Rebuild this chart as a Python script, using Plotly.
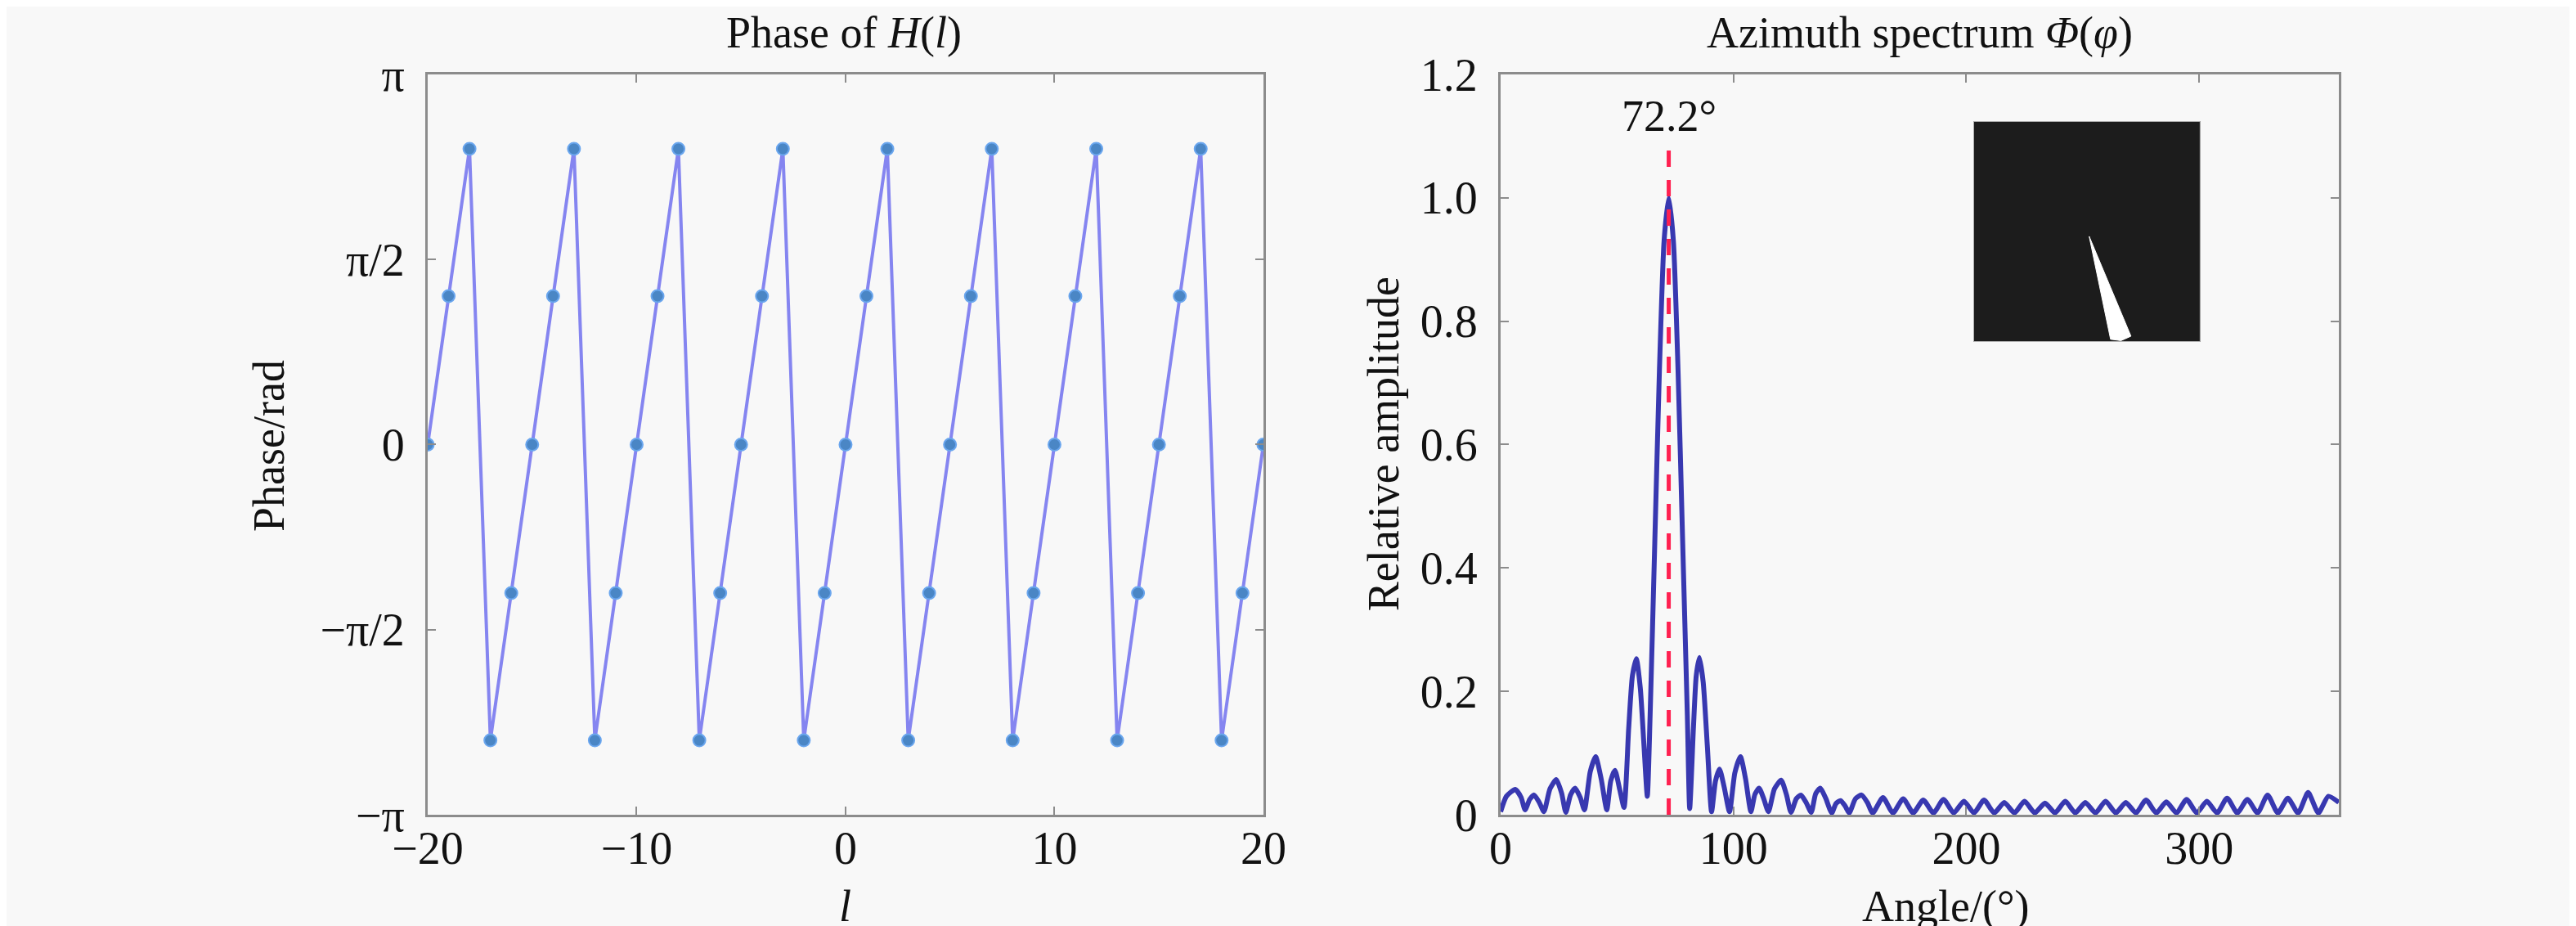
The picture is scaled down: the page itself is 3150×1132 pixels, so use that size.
import plotly.graph_objects as go

# ---- data: phase of H(l) ----
l_index = [-20, -19, -18, -17, -16, -15, -14, -13, -12, -11, -10, -9, -8, -7,
           -6, -5, -4, -3, -2, -1, 0, 1, 2, 3, 4, 5, 6, 7, 8, 9, 10, 11, 12,
           13, 14, 15, 16, 17, 18, 19, 20]
phase_rad = [0.00, 1.26, 2.51, -2.51, -1.26, 0.00, 1.26, 2.51, -2.51, -1.26,
             0.00, 1.26, 2.51, -2.51, -1.26, 0.00, 1.26, 2.51, -2.51, -1.26,
             0.00, 1.26, 2.51, -2.51, -1.26, 0.00, 1.26, 2.51, -2.51, -1.26,
             0.00, 1.26, 2.51, -2.51, -1.26, 0.00, 1.26, 2.51, -2.51, -1.26,
             0.00]
phase_tickvals = [-3.14159, -1.5708, 0, 1.5708, 3.14159]
phase_ticktext = ["−π", "−π/2", "0", "π/2", "π"]

# ---- data: azimuth spectrum ----
angle_deg = [0, 2.5, 6.3, 8.8, 10.5, 12.5, 14.4, 16.6, 18.6, 21.2, 23.9, 26.2,
             28.0, 30.0, 32.0, 34.2, 36.0, 38.5, 40.8, 43.2, 45.6, 47.3, 49.1,
             51.2, 53.0, 55.0, 56.6, 58.3, 60.0, 61.6, 63.0, 64.2, 66.2, 68.2,
             70.2, 72.2, 74.2, 76.2, 78.2, 80.2, 81.2, 82.8, 84.0, 85.4, 87.0,
             88.8, 90.6, 92.3, 94.0, 96.0, 98.3, 100.6, 103.0, 105.2, 107.5,
             109.2, 111.0, 113.0, 115.0, 117.6, 120.5, 122.8, 124.7, 127.0,
             129.0, 131.2, 133.4, 135.3, 137.3, 139.6, 142.2, 144.0, 146.0,
             148.0, 149.7, 152.4, 155.0, 157.5, 159.8, 164.2, 168.5, 172.9,
             177.2, 181.5, 185.9, 190.2, 194.6, 199.0, 203.3, 207.6, 212.0,
             216.3, 220.7, 225.0, 229.4, 233.8, 238.1, 242.5, 246.8, 251.1,
             255.5, 259.8, 264.2, 268.5, 272.9, 277.2, 281.6, 285.9, 290.3,
             294.6, 299.0, 303.3, 307.7, 312.0, 316.4, 320.7, 325.1, 329.4,
             333.8, 338.1, 342.5, 346.8, 351.2, 355.5, 360.0]
amplitude = [0.005, 0.03, 0.041, 0.028, 0.008, 0.025, 0.032, 0.02, 0.005, 0.042,
             0.057, 0.035, 0.004, 0.032, 0.043, 0.028, 0.008, 0.07, 0.094, 0.058,
             0.008, 0.055, 0.072, 0.04, 0.012, 0.14, 0.225, 0.253, 0.205, 0.11,
             0.03, 0.16, 0.44, 0.72, 0.93, 1.0, 0.93, 0.72, 0.44, 0.16, 0.01,
             0.14, 0.225, 0.255, 0.215, 0.11, 0.005, 0.055, 0.074, 0.045, 0.005,
             0.068, 0.094, 0.058, 0.005, 0.033, 0.043, 0.026, 0.005, 0.042,
             0.056, 0.032, 0.004, 0.026, 0.032, 0.02, 0.004, 0.034, 0.043, 0.027,
             0.003, 0.018, 0.023, 0.014, 0.003, 0.026, 0.032, 0.02, 0.003, 0.028,
             0.003, 0.026, 0.003, 0.024, 0.003, 0.025, 0.003, 0.022, 0.003,
             0.024, 0.003, 0.02, 0.003, 0.022, 0.003, 0.019, 0.003, 0.022, 0.003,
             0.02, 0.003, 0.022, 0.003, 0.02, 0.003, 0.024, 0.003, 0.021, 0.003,
             0.025, 0.003, 0.022, 0.003, 0.027, 0.003, 0.025, 0.003, 0.032,
             0.003, 0.027, 0.003, 0.036, 0.003, 0.03, 0.02]
peak_angle = 72.2
peak_line_top = 1.08
spec_tickvals = [0, 0.2, 0.4, 0.6, 0.8, 1.0, 1.2]
spec_ticktext = ["0", "0.2", "0.4", "0.6", "0.8", "1.0", "1.2"]

# inset beam picture (normalised inset coordinates)
inset_box_x = [0, 1, 1, 0, 0]
inset_box_y = [0, 0, 1, 1, 0]
beam_x = [0.51, 0.604, 0.65, 0.694, 0.51]
beam_y = [0.478, 0.012, 0.006, 0.026, 0.478]

FONT = "Liberation Serif"
BG = "#f8f8f8"
AXC = "#8c8c8c"

fig = go.Figure()

fig.add_trace(go.Scatter(
    x=l_index, y=phase_rad, mode="lines+markers",
    line=dict(color="#8585f0", width=4),
    marker=dict(symbol="circle", size=15, color="#4a86c5",
                line=dict(color="#6aa6ee", width=2)),
    xaxis="x", yaxis="y", showlegend=False))

fig.add_trace(go.Scatter(
    x=angle_deg, y=amplitude, mode="lines",
    line=dict(color="#3838b0", width=6, shape="spline", smoothing=0.6),
    xaxis="x2", yaxis="y2", showlegend=False))

fig.add_trace(go.Scatter(
    x=[peak_angle, peak_angle], y=[0, peak_line_top], mode="lines",
    line=dict(color="#ff2050", width=5, dash="20px,16px"),
    xaxis="x2", yaxis="y2", showlegend=False))

# inset: black square with white beam
fig.add_trace(go.Scatter(
    x=inset_box_x, y=inset_box_y, mode="lines", fill="toself",
    fillcolor="#1c1c1c", line=dict(color="#b0b0b0", width=2),
    xaxis="x3", yaxis="y3", showlegend=False, hoverinfo="skip"))
fig.add_trace(go.Scatter(
    x=beam_x, y=beam_y, mode="lines", fill="toself",
    fillcolor="white", line=dict(color="white", width=1),
    xaxis="x3", yaxis="y3", showlegend=False, hoverinfo="skip"))

axis_common = dict(
    showline=True, linecolor=AXC, linewidth=3, mirror="ticks",
    ticks="inside", ticklen=10, tickwidth=2, tickcolor=AXC,
    showgrid=False, zeroline=False,
    tickfont=dict(family=FONT, size=56, color="#111111"),
    automargin=False)

fig.update_layout(
    width=3150, height=1132,
    margin=dict(l=0, r=0, t=0, b=0),
    paper_bgcolor=BG, plot_bgcolor=BG,
    xaxis=dict(domain=[0.1635, 0.4879], range=[-20, 20],
               tickvals=[-20, -10, 0, 10, 20], anchor="y",
               ticklabelstandoff=-10, **axis_common),
    yaxis=dict(domain=[0.1272, 0.9267], range=[-3.14159, 3.14159],
               tickvals=phase_tickvals, ticktext=phase_ticktext, anchor="x",
               ticklabelstandoff=14, **axis_common),
    xaxis2=dict(domain=[0.58, 0.9054], range=[0, 360],
                tickvals=[0, 100, 200, 300], anchor="y2",
                ticklabelstandoff=-10, **axis_common),
    yaxis2=dict(domain=[0.1272, 0.9267], range=[0, 1.2],
                tickvals=spec_tickvals, ticktext=spec_ticktext, anchor="x2",
                ticklabelstandoff=14, **axis_common),
    xaxis3=dict(domain=[0.7635, 0.8517], range=[0, 1], anchor="y3",
                visible=False),
    yaxis3=dict(domain=[0.6378, 0.8763], range=[0, 1], anchor="x3",
                visible=False),
)

txt = dict(family=FONT, size=54, color="#111111")
ann = [
    dict(text="Phase of <i>H</i>(<i>l</i>)", x=0.3252, y=1.0, yanchor="top"),
    dict(text="<i>l</i>", x=0.3257, y=0.0, yanchor="bottom"),
    dict(text="Phase/rad", x=0.1019, y=0.5256, textangle=-90,
         yanchor="middle"),
    dict(text="Azimuth spectrum <i>Φ</i>(<i>φ</i>)", x=0.7427, y=1.0,
         yanchor="top"),
    dict(text="Angle/(°)", x=0.7527, y=0.0, yanchor="bottom"),
    dict(text="Relative amplitude", x=0.5346, y=0.528, textangle=-90,
         yanchor="middle"),
]
for a in ann:
    fig.add_annotation(xref="paper", yref="paper", showarrow=False,
                       xanchor="center", font=txt, **a)

fig.add_annotation(x=peak_angle, y=1.1325, xref="x2", yref="y2",
                   text="72.2°", showarrow=False, font=txt,
                   xanchor="center", yanchor="middle")

fig.write_html("out.html")
